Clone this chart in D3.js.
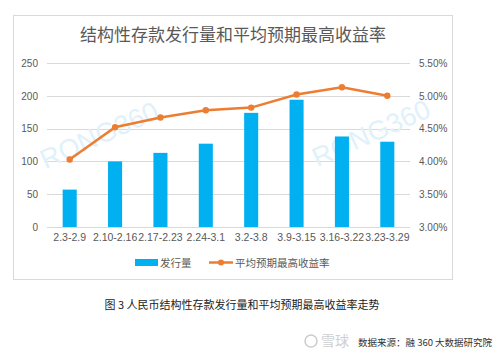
<!DOCTYPE html>
<html><head><meta charset="utf-8">
<script src="https://cdn.jsdelivr.net/npm/d3@7/dist/d3.min.js"></script>
<style>body{margin:0;background:#fff}svg{display:block}</style>
</head><body><svg id="c" width="500" height="357"></svg>
<script>
const categories = ["2.3-2.9","2.10-2.16","2.17-2.23","2.24-3.1","3.2-3.8","3.9-3.15","3.16-3.22","3.23-3.29"];
const volume = [57, 100, 113, 127, 174, 194, 138, 130];
const rate = [4.03, 4.52, 4.67, 4.78, 4.82, 5.02, 5.13, 5.00];
const leftTicks = [0, 50, 100, 150, 200, 250];
const rightTicks = [3.0, 3.5, 4.0, 4.5, 5.0, 5.5];
const title = "结构性存款发行量和平均预期最高收益率";
const seriesNames = ["发行量", "平均预期最高收益率"];
const caption = "图 3 人民币结构性存款发行量和平均预期最高收益率走势";
const source = "数据来源：融 360 大数据研究院";

const font = "'Noto Sans CJK SC', 'Noto Sans', sans-serif";
const svg = d3.select("#c");
const grey = "#595959";
const barColor = "#00B0F0", lineColor = "#ED7D31";

// chart frame
svg.append("rect").attr("x", 13.5).attr("y", 15.5).attr("width", 439).attr("height", 264)
  .attr("fill", "#fff").attr("stroke", "#d9d9d9");

svg.append("text").attr("x", 233).attr("y", 41).attr("text-anchor", "middle")
  .attr("font-family", font).attr("font-size", 17).attr("fill", grey).text(title);

const x = d3.scaleBand().domain(categories).range([47, 410]).paddingInner(0.69).paddingOuter(0.345);
const yL = d3.scaleLinear().domain([0, 250]).range([227, 63]);
const yR = d3.scaleLinear().domain([3, 5.5]).range([227, 63]);

// gridlines
svg.append("g").selectAll("line").data(leftTicks).join("line")
  .attr("x1", 47).attr("x2", 410).attr("y1", d => Math.round(yL(d)) + 0.5).attr("y2", d => Math.round(yL(d)) + 0.5)
  .attr("stroke", "#d9d9d9");

// watermarks
[[100, 137], [372, 135]].forEach(([wx, wy]) => {
  svg.append("text").attr("transform", `translate(${wx},${wy}) rotate(-24)`).attr("text-anchor", "middle")
    .attr("dominant-baseline", "middle")
    .attr("font-family", "'Liberation Sans', sans-serif").attr("font-size", 27)
    .attr("fill", "#dff1fb").text("RONG360");
});

// axes
const axL = svg.append("g").attr("transform", "translate(47,0)")
  .call(d3.axisLeft(yL).tickValues(leftTicks).tickSize(0).tickPadding(9));
const axR = svg.append("g").attr("transform", "translate(410,0)")
  .call(d3.axisRight(yR).tickValues(rightTicks).tickSize(0).tickPadding(9).tickFormat(d => d.toFixed(2) + "%"));
const axB = svg.append("g").attr("transform", "translate(0,227)")
  .call(d3.axisBottom(x).tickSize(0).tickPadding(7));
[axL, axR, axB].forEach(a => {
  a.select(".domain").remove();
  a.selectAll("text").attr("font-family", "'Liberation Sans', sans-serif").attr("font-size", 10).attr("fill", grey);
});
axB.selectAll("text").attr("font-size", 10.5);

// bars
svg.append("g").selectAll("rect").data(volume).join("rect")
  .attr("x", (d, i) => x(categories[i])).attr("width", x.bandwidth())
  .attr("y", d => yL(d)).attr("height", d => yL(0) - yL(d)).attr("fill", barColor);

// line
const cx = i => x(categories[i]) + x.bandwidth() / 2;
svg.append("path").datum(rate)
  .attr("d", d3.line().x((d, i) => cx(i)).y(d => yR(d)))
  .attr("fill", "none").attr("stroke", lineColor).attr("stroke-width", 2.5);
svg.append("g").selectAll("circle").data(rate).join("circle")
  .attr("cx", (d, i) => cx(i)).attr("cy", d => yR(d)).attr("r", 3.2).attr("fill", lineColor);

// legend
const lg = svg.append("g").attr("font-family", font).attr("font-size", 10.5).attr("fill", grey);
lg.append("rect").attr("x", 135).attr("y", 259).attr("width", 23).attr("height", 7).attr("fill", barColor);
lg.append("text").attr("x", 160).attr("y", 266.5).attr("fill", grey).text(seriesNames[0]);
lg.append("line").attr("x1", 209).attr("x2", 233).attr("y1", 262.5).attr("y2", 262.5)
  .attr("stroke", lineColor).attr("stroke-width", 2.5);
lg.append("circle").attr("cx", 221).attr("cy", 262.5).attr("r", 3).attr("fill", lineColor);
lg.append("text").attr("x", 235).attr("y", 266.5).attr("fill", grey).text(seriesNames[1]);

// caption
svg.append("text").attr("x", 242).attr("y", 309).attr("text-anchor", "middle")
  .attr("font-family", font).attr("font-size", 11).attr("fill", "#222").text(caption);

// footer
svg.append("circle").attr("cx", 311).attr("cy", 341).attr("r", 6).attr("fill", "none").attr("stroke", "#ccc").attr("stroke-width", 1.5);
svg.append("text").attr("x", 321).attr("y", 346).attr("font-family", font).attr("font-size", 14)
  .attr("fill", "#d0d0d0").text("雪球");
svg.append("text").attr("x", 358).attr("y", 346).attr("font-family", font).attr("font-size", 9.5)
  .attr("fill", "#333").text(source);
</script></body></html>
